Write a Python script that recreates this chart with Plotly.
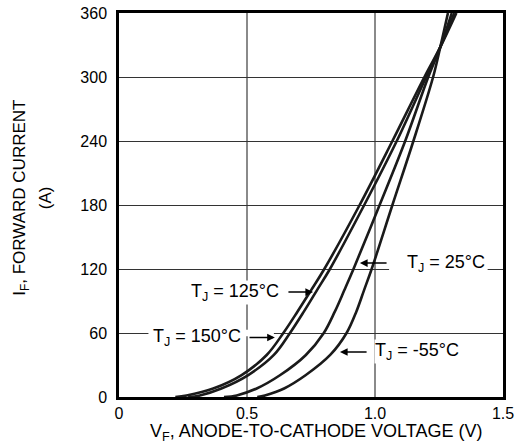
import plotly.graph_objects as go

# Forward current (A) sample levels and forward voltage (V) read for each junction temperature
if_vals = [0, 1.5, 8, 20.6, 39.4, 60, 80, 100, 120, 180, 240, 300, 328, 360]
vf_150 = [0.22, 0.264, 0.368, 0.479, 0.577, 0.642, 0.697, 0.750, 0.802, 0.940, 1.068, 1.193, 1.255, 1.318]
vf_125 = [0.27, 0.316, 0.400, 0.505, 0.605, 0.668, 0.722, 0.773, 0.824, 0.958, 1.085, 1.200, 1.255, 1.310]
vf_25 = [0.41, 0.460, 0.538, 0.630, 0.730, 0.800, 0.843, 0.880, 0.916, 1.018, 1.118, 1.208, 1.255, 1.300]
vf_m55 = [0.54, 0.570, 0.645, 0.730, 0.825, 0.889, 0.927, 0.957, 0.987, 1.068, 1.150, 1.227, 1.255, 1.285]

x_ticks = [0, 0.5, 1.0, 1.5]
x_tick_labels = ["0", "0.5", "1.0", "1.5"]
y_ticks = [0, 60, 120, 180, 240, 300, 360]

FONT = "Liberation Sans, Arial, Helvetica, sans-serif"

fig = go.Figure()
for vf in [vf_150, vf_125, vf_25, vf_m55]:
    fig.add_trace(go.Scatter(x=vf, y=if_vals, mode="lines",
                             line=dict(color="#1a1a1a", width=2.6, shape="spline", smoothing=1.0),
                             showlegend=False, hoverinfo="skip"))

# white masks breaking horizontal gridlines under labels
masks = [(1.055, 1.44, 120), (0.115, 0.605, 60)]
for x0, x1, yv in masks:
    fig.add_shape(type="rect", xref="x", yref="y", x0=x0, x1=x1, y0=yv - 3, y1=yv + 3,
                  fillcolor="white", line=dict(width=0), layer="between")

labels = [
    # text, text_x, text_y, tail_x, tip_x, arrow_y
    ("T<sub>J</sub> = 25°C", 1.277, 125.6, 1.051, 0.941, 125.6),
    ("T<sub>J</sub> = 125°C", 0.453, 98.4, 0.656, 0.758, 98.4),
    ("T<sub>J</sub> = 150°C", 0.305, 56.0, 0.504, 0.609, 55.8),
    ("T<sub>J</sub> = -55°C", 1.164, 42.2, 0.973, 0.863, 42.2),
]
for txt, tx, ty, tail, tip, ay in labels:
    fig.add_annotation(x=tx, y=ty, xref="x", yref="y", text=txt, showarrow=False,
                       font=dict(family=FONT, size=18, color="black"),
                       bgcolor="white", borderpad=0)
    fig.add_annotation(x=tip, y=ay, ax=tail, ay=ay, xref="x", yref="y", axref="x", ayref="y",
                       text="", showarrow=True, arrowhead=2, arrowsize=1.1, arrowwidth=1.4,
                       arrowcolor="black")

# axis titles
fig.add_annotation(x=0.513, y=-0.092, xref="paper", yref="paper",
                   text="V<sub>F</sub>, ANODE-TO-CATHODE VOLTAGE (V)", showarrow=False,
                   font=dict(family=FONT, size=18, color="black"), yanchor="middle")
fig.add_annotation(x=-0.288, y=0.52, xref="paper", yref="paper",
                   text="I<sub>F</sub>, FORWARD CURRENT", showarrow=False, textangle=-90,
                   font=dict(family=FONT, size=17, color="black"))
fig.add_annotation(x=-0.223, y=0.52, xref="paper", yref="paper",
                   text="(A)", showarrow=False, textangle=-90,
                   font=dict(family=FONT, size=17, color="black"))

fig.update_layout(
    width=516, height=443,
    margin=dict(l=119, r=13, t=13, b=46, autoexpand=False),
    paper_bgcolor="white", plot_bgcolor="white",
    font=dict(family=FONT, size=16, color="black"),
)
fig.update_xaxes(range=[0, 1.5], tickvals=x_ticks, ticktext=x_tick_labels, automargin=False,
                 showgrid=True, gridcolor="#8a8a8a", gridwidth=1.8,
                 showline=True, linecolor="black", linewidth=2.5, mirror=True,
                 ticks="", zeroline=False, tickfont=dict(size=16))
fig.update_yaxes(range=[0, 360], tickvals=y_ticks, automargin=False,
                 showgrid=True, gridcolor="#333333", gridwidth=1,
                 showline=True, linecolor="black", linewidth=2.5, mirror=True,
                 ticks="", zeroline=False, tickfont=dict(size=16), ticklabelstandoff=6)

# remove the default page margin so the figure fills the window exactly
fig.write_html("out.html", config={"displayModeBar": False},
               post_script="document.body.style.margin='0';")
